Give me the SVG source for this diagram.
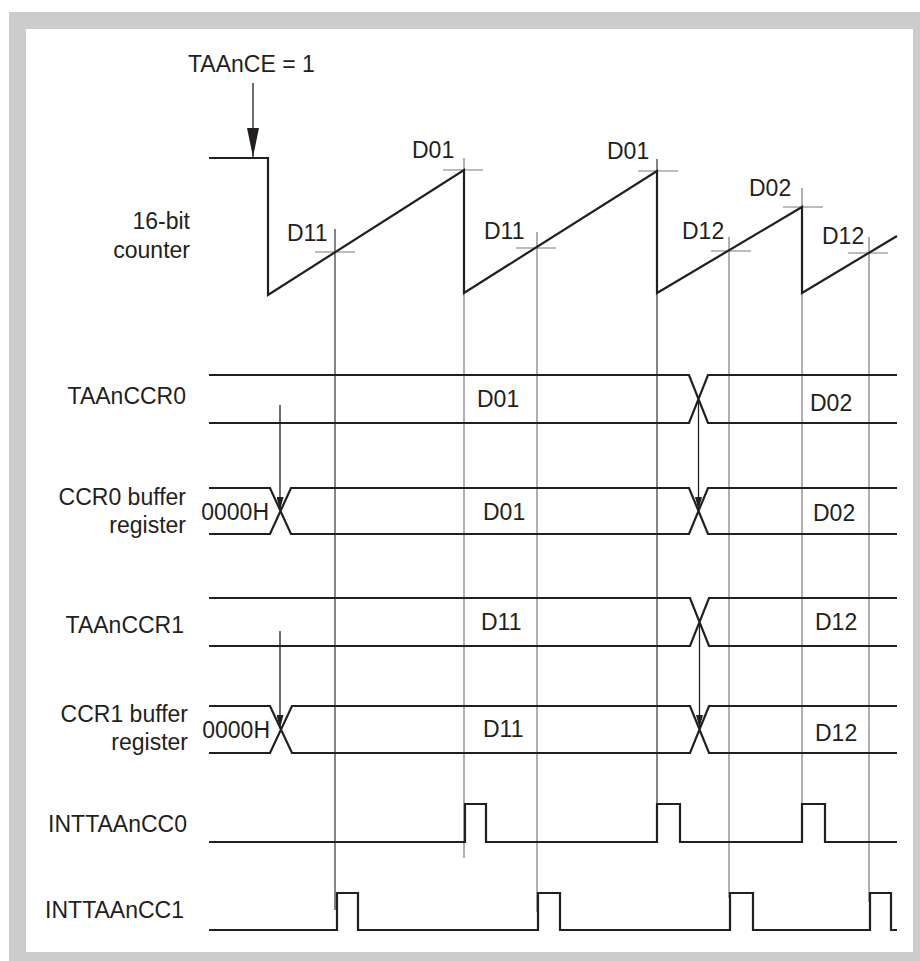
<svg xmlns="http://www.w3.org/2000/svg" width="920" height="961" viewBox="0 0 920 961">
<style>
text{font-family:"Liberation Sans",Arial,sans-serif;font-size:23px;fill:#231f20}
.e{text-anchor:end}
.sig{fill:none;stroke:#231f20;stroke-width:2.2;stroke-linejoin:miter}
.guide{fill:none;stroke:#7a7a7a;stroke-width:1.2}
.dark{fill:none;stroke:#333;stroke-width:1.2}
.arr{fill:none;stroke:#231f20;stroke-width:1.3}
</style>
<defs>
<marker id="bigHead" markerUnits="userSpaceOnUse" markerWidth="29" markerHeight="12" refX="29" refY="6" orient="auto"><path d="M0,0 L29,6 L0,12 z" fill="#231f20"/></marker>
<marker id="smallHead" markerUnits="userSpaceOnUse" markerWidth="13" markerHeight="7" refX="13" refY="3.5" orient="auto"><path d="M0,0 L13,3.5 L0,7 z" fill="#231f20"/></marker>
</defs>
<rect x="9" y="12" width="911" height="949" fill="#cccccc"/>
<rect x="26" y="29" width="887" height="923" fill="#ffffff"/>

<g id="connectors">
<line class="dark" x1="335" y1="229" x2="335" y2="910"/>
<line class="guide" x1="464" y1="158" x2="464" y2="858"/>
<line class="guide" x1="537" y1="232" x2="537" y2="912"/>
<line class="dark" x1="657" y1="159" x2="657" y2="824"/>
<line class="guide" x1="729" y1="237" x2="729" y2="898"/>
<line class="guide" x1="802" y1="188" x2="802" y2="825"/>
<line class="guide" x1="869" y1="237" x2="869" y2="902"/>
<line class="guide" x1="315" y1="252" x2="355" y2="252"/>
<line class="guide" x1="443" y1="170" x2="483" y2="170"/>
<line class="guide" x1="516" y1="248" x2="556" y2="248"/>
<line class="guide" x1="638" y1="171" x2="678" y2="171"/>
<line class="guide" x1="711" y1="251" x2="751" y2="251"/>
<line class="guide" x1="783" y1="207" x2="823" y2="207"/>
<line class="guide" x1="848" y1="253" x2="888" y2="253"/>
<line class="arr" x1="253" y1="83" x2="253" y2="157" marker-end="url(#bigHead)"/>
<line class="arr" x1="280" y1="405" x2="280" y2="510" marker-end="url(#smallHead)"/>
<line class="arr" x1="698.5" y1="399" x2="698.5" y2="510" marker-end="url(#smallHead)"/>
<line class="arr" x1="280" y1="631" x2="280" y2="728" marker-end="url(#smallHead)"/>
<line class="arr" x1="699.5" y1="622" x2="699.5" y2="728" marker-end="url(#smallHead)"/>
</g>

<g id="counter">
<text x="188" y="72">TAAnCE = 1</text>
<text class="e" x="190" y="229">16-bit</text>
<text class="e" x="190" y="258">counter</text>
<path class="sig" d="M209,158 H268 V295 L464,170 V293 L657,171 V293 L802,207 V293 L897,236"/>
<text x="287" y="241">D11</text>
<text x="412" y="158">D01</text>
<text x="484" y="239">D11</text>
<text x="607" y="159">D01</text>
<text x="682" y="239">D12</text>
<text x="749" y="196">D02</text>
<text x="822" y="244">D12</text>
</g>

<g id="taanccr0">
<text class="e" x="186" y="404">TAAnCCR0</text>
<path class="sig" d="M209,375 H689 L708,423 H897 M209,423 H689 L708,375 H897"/>
<text x="477" y="407">D01</text>
<text x="810" y="411">D02</text>
</g>

<g id="ccr0-buffer">
<text class="e" x="186" y="505">CCR0 buffer</text>
<text class="e" x="186" y="533">register</text>
<path class="sig" d="M209,488 H270 L291,534 H689 L708,488 H897 M209,534 H270 L291,488 H689 L708,534 H897"/>
<text class="e" x="269" y="520">0000H</text>
<text x="483" y="520">D01</text>
<text x="813" y="521">D02</text>
</g>

<g id="taanccr1">
<text class="e" x="184" y="633">TAAnCCR1</text>
<path class="sig" d="M209,598 H690 L709,646 H897 M209,646 H690 L709,598 H897"/>
<text x="481" y="630">D11</text>
<text x="815" y="630">D12</text>
</g>

<g id="ccr1-buffer">
<text class="e" x="188" y="722">CCR1 buffer</text>
<text class="e" x="188" y="750">register</text>
<path class="sig" d="M209,706 H270 L292,753 H690 L709,706 H897 M209,753 H270 L292,706 H690 L709,753 H897"/>
<text class="e" x="270" y="738">0000H</text>
<text x="483" y="737">D11</text>
<text x="815" y="741">D12</text>
</g>

<g id="inttaancc0">
<text class="e" x="187" y="832">INTTAAnCC0</text>
<path class="sig" d="M209,842 H465 V804 H486 V842 H657 V804 H680 V842 H802 V804 H825 V842 H897"/>
</g>

<g id="inttaancc1">
<text class="e" x="184" y="918">INTTAAnCC1</text>
<path class="sig" d="M209,930 H337 V893 H358 V930 H538 V893 H560 V930 H730 V893 H753 V930 H870 V893 H891 V930 H897"/>
</g>
</svg>
